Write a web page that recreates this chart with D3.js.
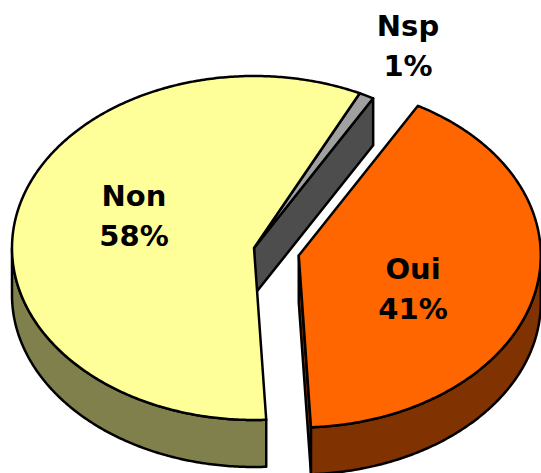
<!DOCTYPE html>
<html>
<head>
<meta charset="utf-8">
<script src="https://cdn.jsdelivr.net/npm/d3@7/dist/d3.min.js"></script>
<style>
  html, body { margin: 0; padding: 0; background: #ffffff; }
  svg { display: block; }
</style>
</head>
<body>
<svg id="chart" width="541" height="473"></svg>
<script>
// Survey answers
const categories = ["Oui", "Non", "Nsp"];
const values = [41, 58, 1];
const percentLabels = ["41%", "58%", "1%"];

// Slice colours: top face and darker side
const topColors = ["#FF6600", "#FFFF99", "#A0A0A0"];
const sideColors = ["#803300", "#80804C", "#4D4D4D"];

// 3D pie geometry
const W = 541, H = 473;
const cx = 254, cy = 248;
const rx = 242, ry = 172;
const depth = 47;
const explode = [46, 0, 0];
const startDeg = 29.5;

// Label placement (x centre, first baseline) per slice
const labelPos = [[413, 279], [134, 206], [408, 36]];
const lineGap = 40;

const svg = d3.select("#chart");

const pie = d3.pie().sort(null).value(d => d)
  .startAngle(startDeg * Math.PI / 180)
  .endAngle(startDeg * Math.PI / 180 + 2 * Math.PI);
const arcs = pie(values);
const n = values.length;

// project a pie angle (clockwise from 12 o'clock) onto the tilted ellipse
function proj(a, ox, oy, dz) {
  return [ox + rx * Math.sin(a), oy - ry * Math.cos(a) + (dz || 0)];
}

function arcPoints(a0, a1, ox, oy, dz) {
  const m = Math.max(2, Math.ceil(Math.abs(a1 - a0) / 0.01));
  return d3.range(m + 1).map(i => proj(a0 + (a1 - a0) * i / m, ox, oy, dz));
}

const line = d3.line();

const slices = arcs.map((d, i) => {
  const mid = (d.startAngle + d.endAngle) / 2;
  const ox = cx + explode[i] * Math.sin(mid);
  const oy = cy - explode[i] * Math.cos(mid) * ry / rx;
  return { d, i, ox, oy };
});

// back-to-front drawing order: small grey slice, then Non, then Oui
const order = [2, 1, 0];

const g = svg.append("g")
  .attr("stroke", "#000")
  .attr("stroke-width", 2.5)
  .attr("stroke-linejoin", "round");

order.forEach(k => {
  const s = slices[k];
  const a0 = s.d.startAngle, a1 = s.d.endAngle;
  const prev = (k - 1 + n) % n, next = (k + 1) % n;

  // radial cut faces: only exposed where a slice is pulled out, and facing the viewer
  [[a0, a0 - Math.PI / 2, prev], [a1, a1 + Math.PI / 2, next]].forEach(([a, nrm, nb]) => {
    const exposed = explode[k] > 0 || explode[nb] > 0;
    if (exposed && Math.cos(nrm) < 0) {
      const e = proj(a, s.ox, s.oy);
      const pts = [[s.ox, s.oy], e, [e[0], e[1] + depth], [s.ox, s.oy + depth]];
      g.append("path")
        .attr("d", line(pts) + "Z")
        .attr("fill", sideColors[k]);
    }
  });

  // outer rim visible on the front half (angles between 90° and 270°)
  [0, 2 * Math.PI].forEach(shift => {
    const lo = Math.max(a0, Math.PI / 2 + shift);
    const hi = Math.min(a1, 3 * Math.PI / 2 + shift);
    if (hi > lo) {
      const topArc = arcPoints(lo, hi, s.ox, s.oy, 0);
      const botArc = arcPoints(hi, lo, s.ox, s.oy, depth);
      g.append("path")
        .attr("d", line(topArc.concat(botArc)) + "Z")
        .attr("fill", sideColors[k]);
    }
  });

  // top face
  const topPts = [[s.ox, s.oy]].concat(arcPoints(a0, a1, s.ox, s.oy, 0));
  g.append("path")
    .attr("d", line(topPts) + "Z")
    .attr("fill", topColors[k]);
});

// labels
const labels = svg.append("g")
  .attr("font-family", "'DejaVu Sans', Verdana, sans-serif")
  .attr("font-weight", "bold")
  .attr("font-size", 29)
  .attr("fill", "#000")
  .attr("text-anchor", "middle");

categories.forEach((c, i) => {
  const [lx, ly] = labelPos[i];
  labels.append("text").attr("x", lx).attr("y", ly).text(c);
  labels.append("text").attr("x", lx).attr("y", ly + lineGap).text(percentLabels[i]);
});
</script>
</body>
</html>
